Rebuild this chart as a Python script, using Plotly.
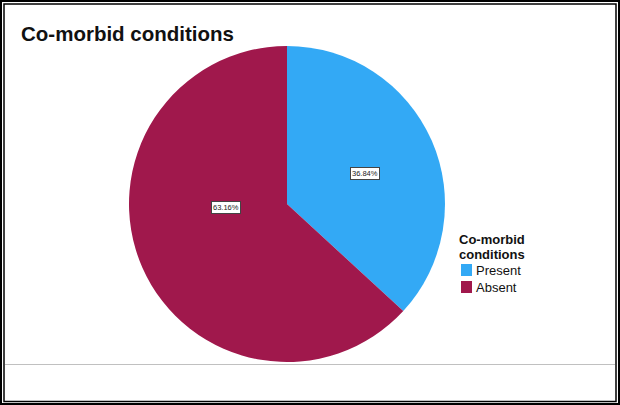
import math
import plotly.graph_objects as go

categories = ["Present", "Absent"]
percentages = [36.84, 63.16]
colors = ["#33A9F5", "#A0184C"]
chart_title = "Co-morbid conditions"
legend_title_lines = ["Co-morbid", "conditions"]

W, H = 620, 405
cx, cy, r = 287, 204, 158
FONT = "Liberation Sans, Arial"

fig = go.Figure()
fig.add_trace(go.Pie(
    labels=categories,
    values=percentages,
    marker=dict(colors=colors, line=dict(width=0)),
    sort=False,
    direction="clockwise",
    rotation=0,
    textinfo="none",
    hoverinfo="label+percent",
    showlegend=False,
    domain=dict(x=[(cx - r) / W, (cx + r) / W], y=[(H - cy - r) / H, (H - cy + r) / H]),
))

def px(x):
    return x / W

def py(y):
    return 1 - y / H

# boxed percentage labels placed at each slice's mid-angle
total = sum(percentages)
cum = 0
label_radius = [0.53, 0.39]
label_angle_shift = [2, 20]
annotations = []
for i, v in enumerate(percentages):
    mid = (cum + v / 2) / total * 360 + label_angle_shift[i]
    cum += v
    rr = r * label_radius[i]
    lx = cx + rr * math.sin(math.radians(mid))
    ly = cy - rr * math.cos(math.radians(mid))
    annotations.append(dict(
        x=px(lx), y=py(ly), xref="paper", yref="paper",
        text=f"{v:.2f}%", showarrow=False,
        font=dict(family=FONT, size=7.5, color="#222222"),
        bgcolor="white", bordercolor="#444444", borderwidth=1, borderpad=1,
    ))

annotations.append(dict(
    x=px(19), y=py(34), xref="paper", yref="paper", xanchor="left", yanchor="middle",
    text=f"<b>{chart_title}</b>", showarrow=False,
    font=dict(family=FONT, size=20.5, color="#111111"),
))

# legend (drawn manually to match the compact layout)
leg_x, leg_title_y, line_h = 457, 239.5, 14.5
for j, t in enumerate(legend_title_lines):
    annotations.append(dict(
        x=px(leg_x), y=py(leg_title_y + j * line_h), xref="paper", yref="paper",
        xanchor="left", yanchor="middle", text=f"<b>{t}</b>", showarrow=False,
        font=dict(family=FONT, size=13, color="#111111"),
    ))

shapes = [
    dict(type="rect", xref="paper", yref="paper", x0=px(1), x1=px(619), y0=py(404), y1=py(1),
         line=dict(color="black", width=2)),
    dict(type="rect", xref="paper", yref="paper", x0=px(4), x1=px(616), y0=py(401.5), y1=py(4),
         line=dict(color="black", width=1.5)),
    dict(type="line", xref="paper", yref="paper", x0=px(5), x1=px(615), y0=py(364.5), y1=py(364.5),
         line=dict(color="#C0C0C0", width=1)),
]

item_y0, item_h = 270, 17
for k, (cat, col) in enumerate(zip(categories, colors)):
    yc = item_y0 + k * item_h
    shapes.append(dict(type="rect", xref="paper", yref="paper",
                       x0=px(461), x1=px(472), y0=py(yc + 6), y1=py(yc - 6),
                       fillcolor=col, line=dict(width=0)))
    annotations.append(dict(
        x=px(474), y=py(yc), xref="paper", yref="paper", xanchor="left", yanchor="middle",
        text=cat, showarrow=False, font=dict(family=FONT, size=13, color="#111111"),
    ))

fig.update_layout(
    width=W, height=H,
    margin=dict(l=0, r=0, t=0, b=0),
    paper_bgcolor="white", plot_bgcolor="white",
    showlegend=False,
    annotations=annotations,
    shapes=shapes,
)

fig.write_html("out.html")
